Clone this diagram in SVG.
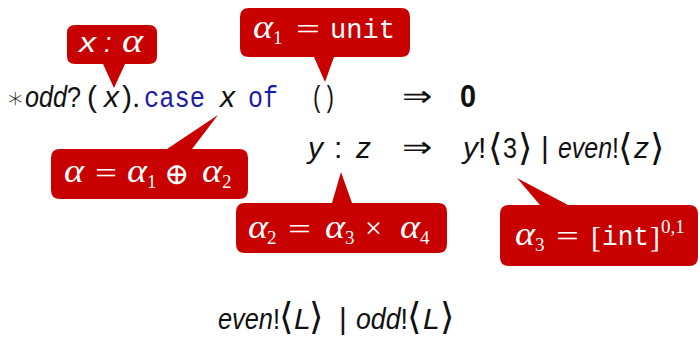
<svg xmlns="http://www.w3.org/2000/svg" width="700" height="338" viewBox="0 0 700 338">
<style>
text{font-family:"Liberation Sans","DejaVu Sans",sans-serif;font-size:30px;fill:#111}
.it{font-style:italic}
.mono{font-family:"Liberation Mono","DejaVu Sans Mono",monospace;font-size:29px}
.kw{fill:#1c1ca8}
.sym{font-family:"DejaVu Sans",sans-serif;font-size:29px;font-weight:200}
.ang{font-family:"DejaVu Sans",sans-serif;font-size:37px;font-weight:200}
.bold{font-weight:bold;font-size:32px}
.call{fill:#c80000}
.ct{fill:#fff;font-family:"Liberation Serif","DejaVu Serif",serif;font-size:30px}
.ga{font-style:italic;font-size:33px}
.sub{font-size:19px}
.ctm{fill:#fff;font-family:"Liberation Mono","DejaVu Sans Mono",monospace;font-size:27px}
.cts{fill:#fff;font-family:"Liberation Sans",sans-serif;font-size:27px;font-style:italic}
</style>
<g id="term">
<text class="sym" x="6" y="108" font-size="29">∗</text>
<text x="25" y="107" textLength="56" lengthAdjust="spacingAndGlyphs"><tspan class="it">odd</tspan>?</text>
<text x="87" y="107">(</text>
<text class="it" x="104" y="107">x</text>
<text x="122" y="107">)</text>
<text x="132" y="107">.</text>
<text class="mono kw" x="144" y="107" textLength="61" lengthAdjust="spacingAndGlyphs">case</text>
<text class="it" x="220" y="107">x</text>
<text class="mono kw" x="248" y="107" textLength="30" lengthAdjust="spacingAndGlyphs">of</text>
<text class="mono" x="311" y="107" textLength="25" lengthAdjust="spacingAndGlyphs">()</text>
<text class="sym" x="402" y="106" textLength="30" lengthAdjust="spacingAndGlyphs">⇒</text>
<text class="bold" x="460" y="107" textLength="16" lengthAdjust="spacingAndGlyphs">0</text>
</g>
<g id="branch2">
<text class="it" x="308" y="158">y</text>
<text x="334" y="158">:</text>
<text class="it" x="356" y="158">z</text>
<text class="sym" x="402" y="157" textLength="30" lengthAdjust="spacingAndGlyphs">⇒</text>
<text x="463" y="158"><tspan class="it">y</tspan>!</text>
<text class="ang" x="488" y="160">⟨</text>
<text x="503" y="158" textLength="14" lengthAdjust="spacingAndGlyphs">3</text>
<text class="ang" x="518" y="160">⟩</text>
<text x="541" y="158">|</text>
<text x="558" y="158" textLength="61" lengthAdjust="spacingAndGlyphs"><tspan class="it">even</tspan>!</text>
<text class="ang" x="618" y="160">⟨</text>
<text class="it" x="634" y="158">z</text>
<text class="ang" x="650" y="160">⟩</text>
</g>
<g id="result">
<text x="218" y="329" textLength="62" lengthAdjust="spacingAndGlyphs"><tspan class="it">even</tspan>!</text>
<text class="ang" x="279" y="329" font-size="34">⟨</text>
<text class="it" x="294" y="329">L</text>
<text class="ang" x="309" y="329" font-size="34">⟩</text>
<text x="339" y="329">|</text>
<text x="356" y="329" textLength="52" lengthAdjust="spacingAndGlyphs"><tspan class="it">odd</tspan>!</text>
<text class="ang" x="407" y="329" font-size="34">⟨</text>
<text class="it" x="423" y="329">L</text>
<text class="ang" x="440" y="329" font-size="34">⟩</text>
</g>
<g id="callout-x">
<path class="call" d="M75,25 H149 Q157,25 157,33 V56 Q157,64 149,64 H125 L114,88 L103,64 H75 Q67,64 67,56 V33 Q67,25 75,25 Z"/>
<text class="cts" x="79" y="52" textLength="17" lengthAdjust="spacingAndGlyphs">x</text>
<text class="cts" x="104" y="52" font-style="normal">:</text>
<text class="ct ga" x="122" y="52" textLength="21" lengthAdjust="spacingAndGlyphs">α</text>
</g>
<g id="callout-a1">
<path class="call" d="M249,8 H401 Q410,8 410,17 V48 Q410,57 401,57 H334 L325,82 L314,57 H249 Q240,57 240,48 V17 Q240,8 249,8 Z"/>
<text class="ct ga" x="253" y="38" textLength="20" lengthAdjust="spacingAndGlyphs">α</text>
<text class="ct sub" x="273" y="44">1</text>
<text class="ct" x="296" y="39" textLength="24" lengthAdjust="spacingAndGlyphs">=</text>
<text class="ctm" x="330" y="38" textLength="65" lengthAdjust="spacingAndGlyphs">unit</text>
</g>
<g id="callout-a">
<path class="call" d="M60,149 H167 L218,115 L192,149 H239 Q248,149 248,158 V190 Q248,199 239,199 H60 Q51,199 51,190 V158 Q51,149 60,149 Z"/>
<text class="ct ga" x="64" y="182" textLength="20" lengthAdjust="spacingAndGlyphs">α</text>
<text class="ct" x="95" y="183" textLength="22" lengthAdjust="spacingAndGlyphs">=</text>
<text class="ct ga" x="127" y="182" textLength="20" lengthAdjust="spacingAndGlyphs">α</text>
<text class="ct sub" x="147" y="188">1</text>
<text class="ct" x="164" y="184" font-family="DejaVu Sans" font-size="24" font-weight="200">⊕</text>
<text class="ct ga" x="202" y="182" textLength="20" lengthAdjust="spacingAndGlyphs">α</text>
<text class="ct sub" x="222" y="188">2</text>
</g>
<g id="callout-a2">
<path class="call" d="M245,203 H332 L341,172 L352,203 H438 Q447,203 447,212 V244 Q447,253 438,253 H245 Q236,253 236,244 V212 Q236,203 245,203 Z"/>
<text class="ct ga" x="248" y="238" textLength="20" lengthAdjust="spacingAndGlyphs">α</text>
<text class="ct sub" x="267" y="244">2</text>
<text class="ct" x="288" y="239" textLength="23" lengthAdjust="spacingAndGlyphs">=</text>
<text class="ct ga" x="325" y="238" textLength="20" lengthAdjust="spacingAndGlyphs">α</text>
<text class="ct sub" x="345" y="244">3</text>
<text class="ct" x="365" y="238" font-size="28">×</text>
<text class="ct ga" x="400" y="238" textLength="20" lengthAdjust="spacingAndGlyphs">α</text>
<text class="ct sub" x="420" y="244">4</text>
</g>
<g id="callout-a3">
<path class="call" d="M509,205 H540 L517,178 L568,205 H689 Q698,205 698,214 V257 Q698,266 689,266 H509 Q500,266 500,257 V214 Q500,205 509,205 Z"/>
<text class="ct ga" x="515" y="245" textLength="20" lengthAdjust="spacingAndGlyphs">α</text>
<text class="ct sub" x="535" y="251">3</text>
<text class="ct" x="556" y="246" textLength="23" lengthAdjust="spacingAndGlyphs">=</text>
<text class="ct" x="591" y="247" font-size="32">[</text>
<text class="ctm" x="602" y="245" textLength="47" lengthAdjust="spacingAndGlyphs">int</text>
<text class="ct" x="650" y="247" font-size="32">]</text>
<text class="ct sub" x="661" y="233">0,1</text>
</g>
</svg>
